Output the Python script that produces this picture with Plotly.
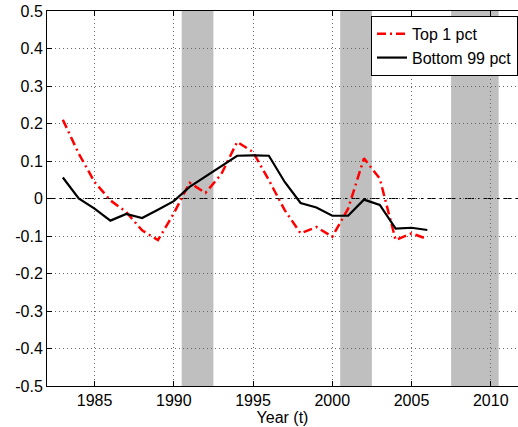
import plotly.graph_objects as go

years = list(range(1983, 2007))
top1 = [0.21, 0.12, 0.044, -0.005, -0.036, -0.085, -0.111, -0.04, 0.042, 0.015,
        0.065, 0.151, 0.124, 0.049, -0.031, -0.093, -0.076, -0.102, -0.027, 0.107,
        0.053, -0.111, -0.093, -0.108]
bottom99 = [0.056, 0.0, -0.027, -0.059, -0.041, -0.052, -0.03, -0.007, 0.031, 0.059,
            0.088, 0.114, 0.115, 0.114, 0.044, -0.012, -0.024, -0.046, -0.046, -0.003,
            -0.017, -0.08, -0.078, -0.084]
recession_start = [1990.5, 2000.5, 2007.5]
recession_end = [1992.5, 2002.5, 2010.5]
xticks = [1985, 1990, 1995, 2000, 2005, 2010]
yticks = [0.5, 0.4, 0.3, 0.2, 0.1, 0, -0.1, -0.2, -0.3, -0.4, -0.5]
yticklabels = ["0.5", "0.4", "0.3", "0.2", "0.1", "0", "-0.1", "-0.2", "-0.3", "-0.4", "-0.5"]

FONT = "Liberation Sans, Arial, sans-serif"

fig = go.Figure()
for s, e in zip(recession_start, recession_end):
    fig.add_vrect(x0=s, x1=e, fillcolor="#bfbfbf", opacity=1, line_width=0, layer="below")

fig.add_hline(y=0, line=dict(color="black", width=1, dash="9px,4px,2px,4px"), layer="below")

fig.add_trace(go.Scatter(x=years, y=top1, mode="lines", name="Top 1 pct",
                         line=dict(color="red", width=2.5, dash="9px,4px,2px,4px")))
fig.add_trace(go.Scatter(x=years, y=bottom99, mode="lines", name="Bottom 99 pct",
                         line=dict(color="black", width=2.2)))

fig.update_layout(
    width=518, height=427,
    margin=dict(l=47, r=0, t=11, b=41, autoexpand=False),
    plot_bgcolor="white", paper_bgcolor="white",
    font=dict(family=FONT, size=16, color="black"),
    showlegend=True,
    legend=dict(x=1, y=0.987, xanchor="right", yanchor="top",
                bgcolor="white", bordercolor="black", borderwidth=1,
                font=dict(size=16), tracegroupgap=0, itemwidth=30),
    xaxis=dict(range=[1982, 2011.72], tickvals=xticks, ticks="inside", ticklen=5,
               tickcolor="black", showline=True, linecolor="black", linewidth=1,
               mirror="ticks", showgrid=True, gridcolor="#666", griddash="1px,3px",
               gridwidth=1, zeroline=False, automargin=False,
               title=dict(text="Year (t)", font=dict(size=16), standoff=0)),
    yaxis=dict(range=[-0.5, 0.5], tickvals=yticks, ticktext=yticklabels,
               ticks="inside", ticklen=5, tickcolor="black", showline=True,
               linecolor="black", linewidth=1, mirror=False, showgrid=True,
               gridcolor="#666", griddash="1px,3px", gridwidth=1, zeroline=False,
               automargin=False, ticklabeloverflow="allow"),
)

fig.write_html("out.html",
               config={"displayModeBar": False},
               post_script="document.body.style.margin='0px';document.body.style.overflow='hidden';")
